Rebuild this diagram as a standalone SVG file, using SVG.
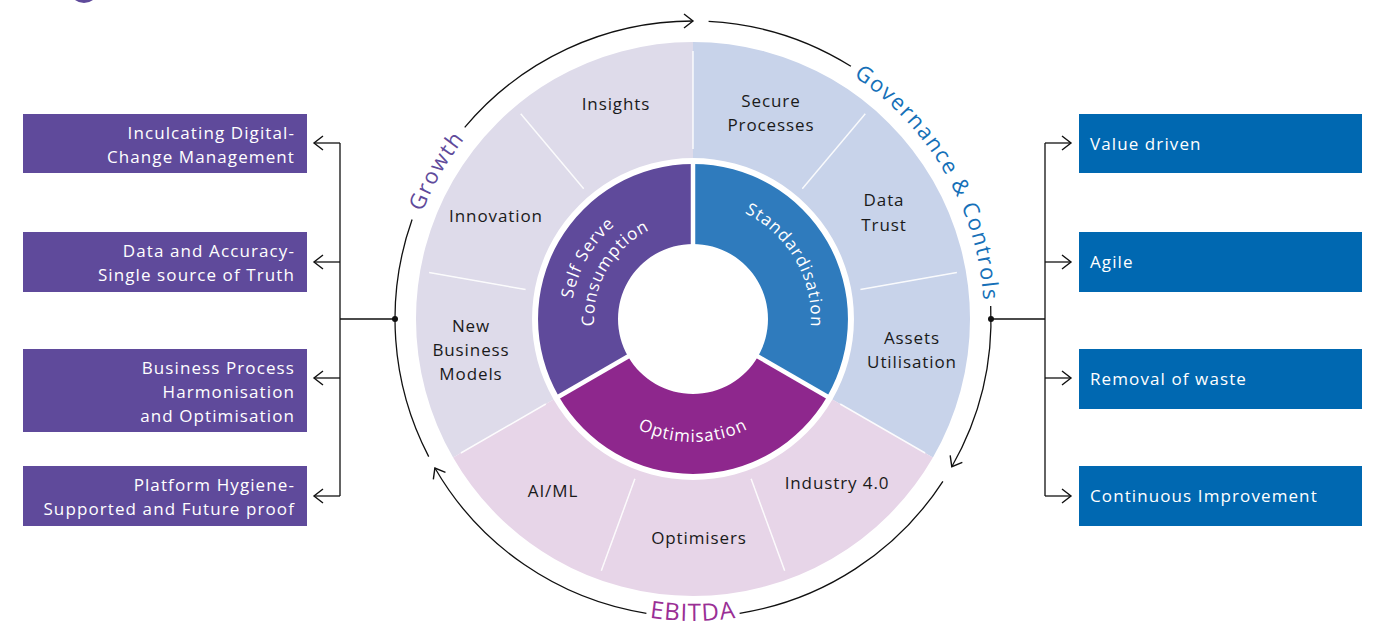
<svg xmlns="http://www.w3.org/2000/svg" width="1379" height="625" viewBox="0 0 1379 625">
<defs>
<marker id="arr" markerUnits="userSpaceOnUse" markerWidth="24" markerHeight="24" viewBox="-12 -12 24 24" refX="0" refY="0" orient="auto">
<path d="M-9,-7 L0,0 L-9,7" fill="none" stroke="#111" stroke-width="1.4"/>
</marker>
<path id="pGrowth" d="M406.4,369.5 A291,291 0 0 1 593.5,45.5"/>
<path id="pGov" d="M743.5,32.4 A291,291 0 0 1 966.5,418.5"/>
<path id="pEbitda" d="M498.9,550.3 A302,302 0 0 0 887.1,550.3"/>
<path id="pSelf" d="M587.4,380 A122,122 0 0 1 693,197"/>
<path id="pCons" d="M607.3,368.5 A99,99 0 0 1 693,220"/>
<path id="pStd" d="M693,201 A118,118 0 0 1 795.2,378"/>
<path id="pOpt" d="M586.5,380.5 A123,123 0 0 0 799.5,380.5"/>
</defs>
<style>
.lbl{font-family:"Open Sans","Liberation Sans",sans-serif;font-size:17px;font-weight:500;fill:#1a1a1a;letter-spacing:0.9px;text-anchor:middle}
.in{font-family:"Open Sans","Liberation Sans",sans-serif;font-size:17px;font-weight:500;fill:#fff;letter-spacing:1px}
.arc{font-family:"Open Sans","Liberation Sans",sans-serif;font-size:22px;font-weight:400;letter-spacing:1.5px}
.bx{font-family:"Open Sans","Liberation Sans",sans-serif;font-size:17px;font-weight:500;fill:#fff;letter-spacing:1.1px}
.ln{fill:none;stroke:#111;stroke-width:1.3}
.div{stroke:#fff;stroke-width:1.5;opacity:0.9}
.sep{stroke:#fff;stroke-width:4.5}
</style>
<rect width="1379" height="625" fill="#fff"/>
<circle cx="84" cy="-12" r="15" fill="#5f4a9b"/>

<g id="wheel-outer">
<path d="M453.1,457.5 A277,277 0 0 1 693,42 L693,158 A161,161 0 0 0 553.6,399.5 Z" fill="#dedbea"/>
<path d="M693,42 A277,277 0 0 1 932.9,457.5 L832.4,399.5 A161,161 0 0 0 693,158 Z" fill="#c8d3ea"/>
<path d="M932.9,457.5 A277,277 0 0 1 453.1,457.5 L553.6,399.5 A161,161 0 0 0 832.4,399.5 Z" fill="#e7d5e8"/>
<line class="div" x1="693" y1="149" x2="693" y2="51"/>
<line class="div" x1="802.3" y1="188.8" x2="865.3" y2="113.7"/>
<line class="div" x1="860.4" y1="289.5" x2="956.9" y2="272.5"/>
<line class="div" x1="840.2" y1="404" x2="925.1" y2="453"/>
<line class="div" x1="751.1" y1="478.7" x2="784.7" y2="570.8"/>
<line class="div" x1="634.9" y1="478.7" x2="601.3" y2="570.8"/>
<line class="div" x1="545.8" y1="404" x2="460.9" y2="453"/>
<line class="div" x1="525.6" y1="289.5" x2="429.1" y2="272.5"/>
<line class="div" x1="583.7" y1="188.8" x2="520.7" y2="113.7"/>
</g>

<g id="seg-insights"><text class="lbl" x="616" y="110">Insights</text></g>
<g id="seg-secure"><text class="lbl" x="771" y="107">Secure</text><text class="lbl" x="771" y="131">Processes</text></g>
<g id="seg-innovation"><text class="lbl" x="496" y="222">Innovation</text></g>
<g id="seg-datatrust"><text class="lbl" x="884" y="206">Data</text><text class="lbl" x="884" y="231">Trust</text></g>
<g id="seg-assets"><text class="lbl" x="912" y="344">Assets</text><text class="lbl" x="912" y="368">Utilisation</text></g>
<g id="seg-newbusiness"><text class="lbl" x="471" y="332">New</text><text class="lbl" x="471" y="356">Business</text><text class="lbl" x="471" y="380">Models</text></g>
<g id="seg-aiml"><text class="lbl" x="553" y="497">AI/ML</text></g>
<g id="seg-optimisers"><text class="lbl" x="699" y="544">Optimisers</text></g>
<g id="seg-industry"><text class="lbl" x="837" y="489">Industry 4.0</text></g>

<g id="wheel-inner">
<path d="M558.8,396.5 A155,155 0 0 1 693,164 L693,244 A75,75 0 0 0 628.05,356.5 Z" fill="#5f4a9b"/>
<path d="M693,164 A155,155 0 0 1 827.2,396.5 L757.95,356.5 A75,75 0 0 0 693,244 Z" fill="#2f7bbd"/>
<path d="M827.2,396.5 A155,155 0 0 1 558.8,396.5 L628.05,356.5 A75,75 0 0 0 757.95,356.5 Z" fill="#8e278d"/>
<line class="sep" x1="693" y1="247" x2="693" y2="160"/>
<line class="sep" x1="755.4" y1="355" x2="830.6" y2="398.5"/>
<line class="sep" x1="630.6" y1="355" x2="555.4" y2="398.5"/>
<text class="in"><textPath href="#pSelf" startOffset="50%" text-anchor="middle">Self Serve</textPath></text>
<text class="in"><textPath href="#pCons" startOffset="50%" text-anchor="middle">Consumption</textPath></text>
<text class="in"><textPath href="#pStd" startOffset="50%" text-anchor="middle">Standardisation</textPath></text>
<text class="in"><textPath href="#pOpt" startOffset="50%" text-anchor="middle">Optimisation</textPath></text>
</g>

<g id="cycle-labels">
<text class="arc" fill="#5f4a9b"><textPath href="#pGrowth" startOffset="50%" text-anchor="middle">Growth</textPath></text>
<text class="arc" fill="#1570b8"><textPath href="#pGov" startOffset="50%" text-anchor="middle">Governance &amp; Controls</textPath></text>
<text class="arc" fill="#9a2f95" style="font-size:24px;letter-spacing:1px"><textPath href="#pEbitda" startOffset="50%" text-anchor="middle">EBITDA</textPath></text>
</g>

<g id="left-boxes">
<g id="box-l1"><rect x="23" y="114" width="284" height="59" fill="#5f4a9b"/><text class="bx" x="295" y="139" text-anchor="end">Inculcating Digital-</text><text class="bx" x="295" y="163" text-anchor="end">Change Management</text></g>
<g id="box-l2"><rect x="23" y="232" width="284" height="60" fill="#5f4a9b"/><text class="bx" x="295" y="257" text-anchor="end">Data and Accuracy-</text><text class="bx" x="295" y="281" text-anchor="end">Single source of Truth</text></g>
<g id="box-l3"><rect x="23" y="349" width="284" height="83" fill="#5f4a9b"/><text class="bx" x="295" y="374" text-anchor="end">Business Process</text><text class="bx" x="295" y="398" text-anchor="end">Harmonisation</text><text class="bx" x="295" y="422" text-anchor="end">and Optimisation</text></g>
<g id="box-l4"><rect x="23" y="466" width="284" height="60" fill="#5f4a9b"/><text class="bx" x="295" y="491" text-anchor="end">Platform Hygiene-</text><text class="bx" x="295" y="515" text-anchor="end">Supported and Future proof</text></g>
</g>

<g id="right-boxes">
<g id="box-r1"><rect x="1079" y="114" width="283" height="59" fill="#0068b1"/><text class="bx" x="1090" y="150">Value driven</text></g>
<g id="box-r2"><rect x="1079" y="232" width="283" height="60" fill="#0068b1"/><text class="bx" x="1090" y="268">Agile</text></g>
<g id="box-r3"><rect x="1079" y="349" width="283" height="60" fill="#0068b1"/><text class="bx" x="1090" y="385">Removal of waste</text></g>
<g id="box-r4"><rect x="1079" y="466" width="283" height="60" fill="#0068b1"/><text class="bx" x="1090" y="502">Continuous Improvement</text></g>
</g>

<g id="connectors">
<path class="ln" d="M428.7,456.6 A298,298 0 0 1 412.1,219.5"/>
<path class="ln" d="M464.7,127.4 A298,298 0 0 1 693,21" marker-end="url(#arr)"/>
<path class="ln" d="M708.6,21.4 A298,298 0 0 1 850.9,66.3"/>
<path class="ln" d="M990.7,306 A298,298 0 0 1 951.8,466.7" marker-end="url(#arr)"/>
<path class="ln" d="M942.9,481.3 A298,298 0 0 1 739.6,613.3"/>
<path class="ln" d="M646.4,613.3 A298,298 0 0 1 434.9,468" marker-end="url(#arr)"/>
<circle cx="395" cy="319" r="3" fill="#111"/>
<circle cx="991" cy="319" r="3" fill="#111"/>
<path class="ln" d="M395,319 H340 M340,143 V496"/>
<path class="ln" d="M340,143 H314" marker-end="url(#arr)"/>
<path class="ln" d="M340,262 H314" marker-end="url(#arr)"/>
<path class="ln" d="M340,378 H314" marker-end="url(#arr)"/>
<path class="ln" d="M340,496 H314" marker-end="url(#arr)"/>
<path class="ln" d="M991,319 H1045 M1045,143 V496"/>
<path class="ln" d="M1045,143 H1071" marker-end="url(#arr)"/>
<path class="ln" d="M1045,262 H1071" marker-end="url(#arr)"/>
<path class="ln" d="M1045,378 H1071" marker-end="url(#arr)"/>
<path class="ln" d="M1045,496 H1071" marker-end="url(#arr)"/>
</g>
</svg>
